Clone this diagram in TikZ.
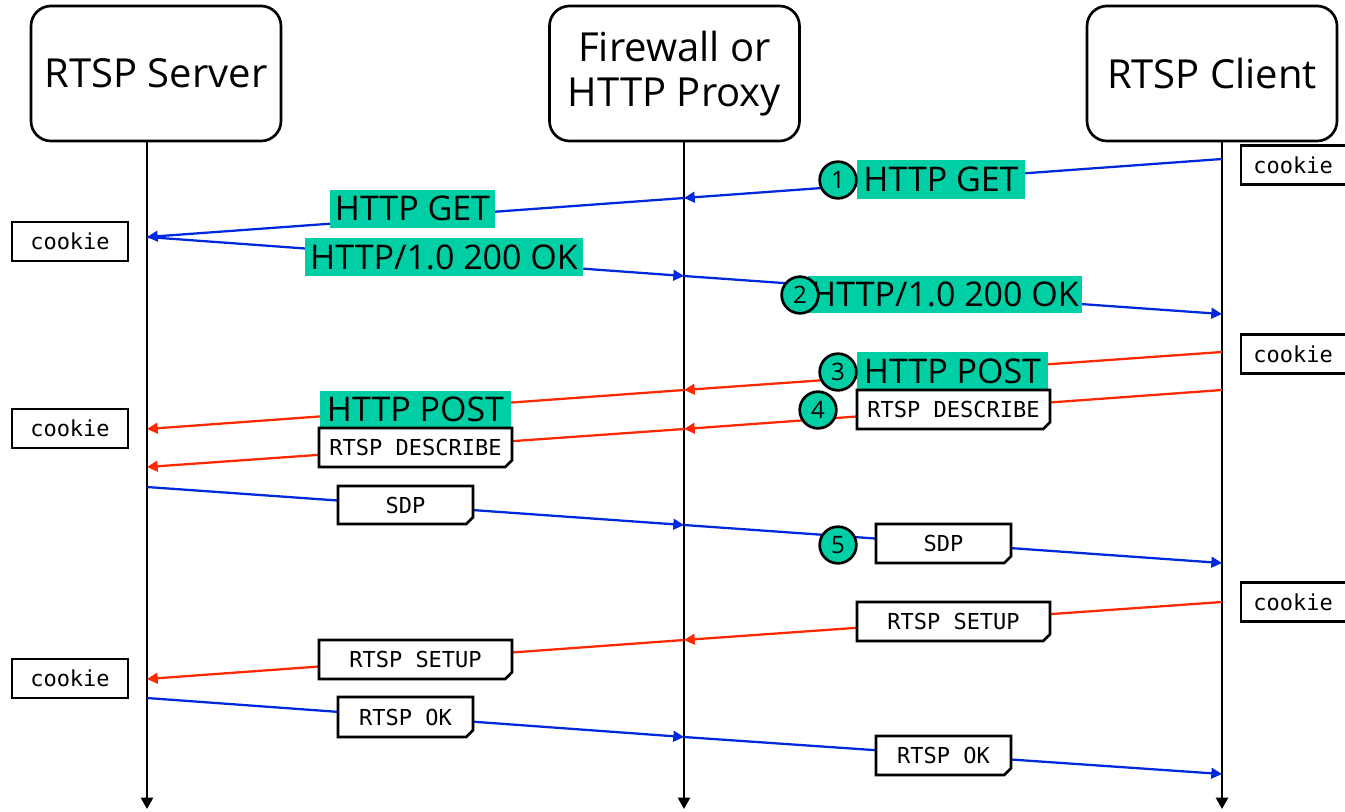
\documentclass[tikz,border=0pt]{standalone}
\usepackage{fontspec}
\setmainfont{Open Sans}
\newfontfamily\monofont{DejaVu Sans Mono}
\usetikzlibrary{arrows.meta,shapes.misc}
\definecolor{msggreen}{RGB}{0,207,165}
\definecolor{msgblue}{RGB}{0,40,220}
\definecolor{msgred}{RGB}{255,40,0}
\tikzset{
  wh/.style 2 args={minimum width={#1*0.75pt}, minimum height={#2*0.75pt}},
  entity/.style={draw, line width=2pt, rounded corners=15pt, align=center,
    inner sep=0pt, font=\fontsize{30}{34}\selectfont, wh={250}{135}},
  life/.style={line width=1.8pt, -{Triangle[length=8.5pt,width=9pt]}},
  msg/.style={line width=1.7pt},
  tohere/.style={msg, draw=msgblue, arrows={-{Triangle[length=8pt,width=8pt,fill=msgblue]}}},
  tothere/.style={msg, draw=msgred, arrows={-{Triangle[length=8pt,width=8pt,fill=msgred]}}},
  glabel/.style={fill=msggreen, inner sep=0pt, font=\fontsize{25.5}{30}\selectfont},
  mbox/.style={draw, fill=white, line width=2pt, inner sep=0pt,
    chamfered rectangle, chamfered rectangle corners=south east,
    chamfered rectangle xsep=2.5pt, chamfered rectangle ysep=2.5pt,
    font=\monofont\fontsize{16.5}{19}\selectfont},
  cookie/.style={draw, fill=white, line width=1.8pt, inner sep=0pt,
    font=\monofont\fontsize{16.5}{19}\selectfont, wh={116}{39}},
  step num/.style={circle, draw, fill=msggreen, line width=2pt, inner sep=0pt,
    minimum size=27.5pt, font=\fontsize{18}{20}\selectfont},
}
\begin{document}
\begin{tikzpicture}[x=0.75pt,y=-0.75pt]
\useasboundingbox (0,0) rectangle (1345,811);

% participants
\node[entity] (server) at (156,73.5) {RTSP Server};
\node[entity] (proxy)  at (674.5,73.5) {Firewall or\\HTTP Proxy};
\node[entity] (client) at (1212,73.5) {RTSP Client};

% lifelines
\coordinate (sEnd) at (147,809);
\coordinate (pEnd) at (684,809);
\coordinate (cEnd) at (1222,809);
\draw[life] (server.south -| sEnd) -- (sEnd);
\draw[life] (proxy.south -| pEnd) -- (pEnd);
\draw[life] (client.south -| cEnd) -- (cEnd);

% message anchor points on the lifelines
\coordinate (c1) at (1222,159); \coordinate (p1) at (684,198); \coordinate (s1) at (147,237);
\coordinate (s2) at (147,237);  \coordinate (p2) at (684,276); \coordinate (c2) at (1222,314);
\coordinate (c3) at (1222,352); \coordinate (p3) at (684,390); \coordinate (s3) at (147,429);
\coordinate (c4) at (1222,390); \coordinate (p4) at (684,429); \coordinate (s4) at (147,467);
\coordinate (s5) at (147,487);  \coordinate (p5) at (684,525); \coordinate (c5) at (1222,563);
\coordinate (c6) at (1222,602); \coordinate (p6) at (684,640); \coordinate (s6) at (147,679);
\coordinate (s7) at (147,698);  \coordinate (p7) at (684,737); \coordinate (c7) at (1222,774);

% messages
\draw[tohere] (c1) -- (p1); \draw[tohere] (p1) -- (s1);
\draw[tohere] (s2) -- (p2); \draw[tohere] (p2) -- (c2);
\draw[tothere] (c3) -- (p3); \draw[tothere] (p3) -- (s3);
\draw[tothere] (c4) -- (p4); \draw[tothere] (p4) -- (s4);
\draw[tohere] (s5) -- (p5); \draw[tohere] (p5) -- (c5);
\draw[tothere] (c6) -- (p6); \draw[tothere] (p6) -- (s6);
\draw[tohere] (s7) -- (p7); \draw[tohere] (p7) -- (c7);

% HTTP labels
\node[glabel, wh={168}{39}] (get1)  at (941,179.5) {HTTP GET};
\node[glabel, wh={165}{38}] (get2)  at (412.5,208.5) {HTTP GET};
\node[glabel, wh={278}{38}] (ok1)   at (444,257) {HTTP/1.0 200 OK};
\node[glabel, wh={274}{37}] (ok2)   at (945,294.5) {HTTP/1.0 200 OK};
\node[glabel, wh={191}{39}] (post1) at (952.5,371.5) {HTTP POST};
\node[glabel, wh={191}{37}] (post2) at (415.5,409.5) {HTTP POST};

% RTSP labels
\node[mbox, wh={193}{39}] (desc1)  at (953.5,409.5) {RTSP DESCRIBE};
\node[mbox, wh={193}{39}] (desc2)  at (415.5,447.5) {RTSP DESCRIBE};
\node[mbox, wh={135}{38}] (sdp1)   at (405.5,505) {SDP};
\node[mbox, wh={135}{39}] (sdp2)   at (943.5,543.5) {SDP};
\node[mbox, wh={193}{39}] (setup1) at (953.5,621.5) {RTSP SETUP};
\node[mbox, wh={193}{39}] (setup2) at (415.5,659.5) {RTSP SETUP};
\node[mbox, wh={135}{40}] (rok1)   at (405.5,717) {RTSP OK};
\node[mbox, wh={135}{39}] (rok2)   at (943.5,755.5) {RTSP OK};

% step markers
\node[step num] (n1) at (838,180) {1};
\node[step num] (n2) at (800,295) {2};
\node[step num] (n3) at (838,372) {3};
\node[step num] (n4) at (818,410) {4};
\node[step num] (n5) at (838,545) {5};

% cookies
\node[cookie] (ck1) at (70,241.5) {cookie};
\node[cookie] (ck2) at (70,428.5) {cookie};
\node[cookie] (ck3) at (70,678.5) {cookie};
\node[cookie] (ck4) at (1299,165) {cookie\hspace*{9pt}};
\node[cookie] (ck5) at (1299,354) {cookie\hspace*{9pt}};
\node[cookie] (ck6) at (1299,602) {cookie\hspace*{9pt}};
\end{tikzpicture}
\end{document}
